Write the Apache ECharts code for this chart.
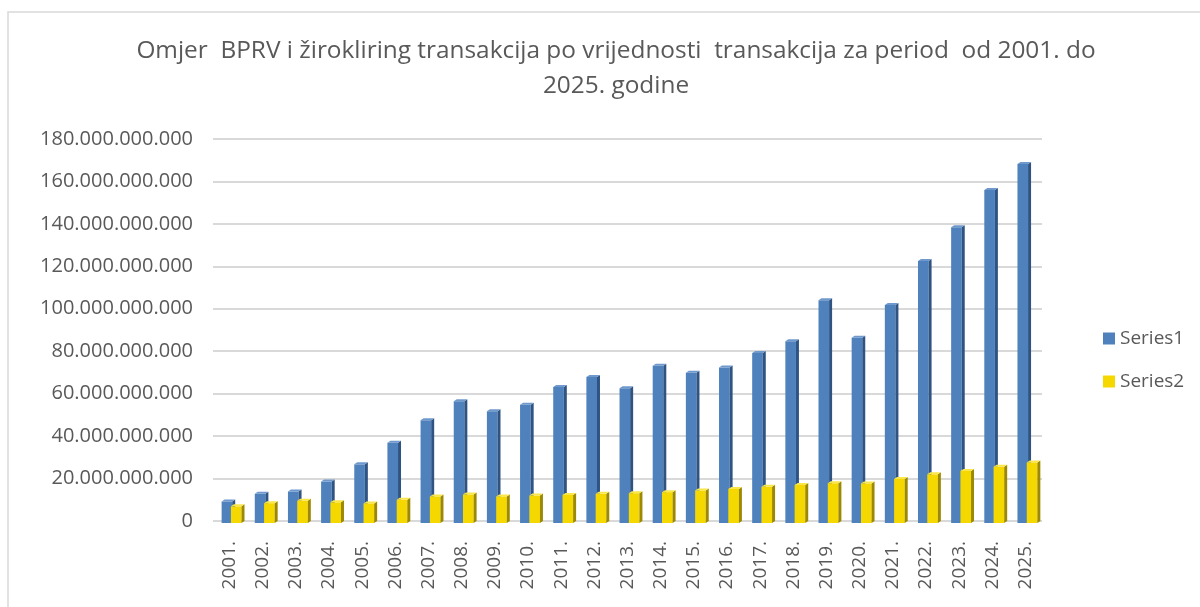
<!DOCTYPE html>
<html>
<head>
<meta charset="utf-8">
<script src="https://cdn.jsdelivr.net/npm/echarts@6/dist/echarts.min.js"></script>
<style>
  html, body { margin: 0; padding: 0; background: #fff; }
  #chart { width: 1200px; height: 607px; }
</style>
</head>
<body>
<div id="chart"></div>
<script>
// godine
const years = ['2001.', '2002.', '2003.', '2004.', '2005.', '2006.', '2007.', '2008.', '2009.', '2010.',
  '2011.', '2012.', '2013.', '2014.', '2015.', '2016.', '2017.', '2018.', '2019.', '2020.',
  '2021.', '2022.', '2023.', '2024.', '2025.'];

// BPRV (plavo)
const series1 = [9.2e9, 12.8e9, 13.9e9, 18.6e9, 26.7e9, 36.9e9, 47.5e9, 56.4e9, 51.7e9, 54.8e9,
  63.1e9, 67.8e9, 62.6e9, 73.2e9, 69.8e9, 72.3e9, 79.2e9, 84.7e9, 104.0e9, 86.4e9,
  101.8e9, 122.5e9, 138.4e9, 156.0e9, 168.2e9];

// žirokliring (žuto)
const series2 = [6.9e9, 8.4e9, 9.5e9, 8.8e9, 8.3e9, 10.0e9, 11.6e9, 12.5e9, 11.6e9, 12.0e9,
  12.3e9, 12.8e9, 13.1e9, 13.6e9, 14.4e9, 15.1e9, 16.1e9, 17.0e9, 17.8e9, 17.7e9,
  19.8e9, 22.0e9, 23.6e9, 25.6e9, 27.6e9];

const yTicks = [0, 20e9, 40e9, 60e9, 80e9, 100e9, 120e9, 140e9, 160e9, 180e9];

const chart = echarts.init(document.getElementById('chart'));

// 3D stupac: prednja strana + bočna + gornja
function column3d(faceColor, sideColor, topColor, offset) {
  return function (params, api) {
    const idx = api.value(0);
    const top = api.coord([idx, api.value(1)]);
    const base = api.coord([idx, 0]);
    const band = api.size([1, 0])[0];
    const face = band * 0.32;
    const side = band * 0.09;
    const d = 2;
    const x0 = top[0] + band * offset;
    const x1 = x0 + face;
    return {
      type: 'group',
      children: [
        { type: 'rect', shape: { x: x0, y: top[1], width: face, height: base[1] - top[1] + 2 },
          style: { fill: faceColor } },
        { type: 'polygon', shape: { points: [[x1, top[1]], [x1 + side, top[1] - d], [x1 + side, base[1]], [x1, base[1] + 2]] },
          style: { fill: sideColor } },
        { type: 'polygon', shape: { points: [[x0, top[1]], [x0 + side, top[1] - d], [x1 + side, top[1] - d], [x1, top[1]]] },
          style: { fill: topColor } }
      ]
    };
  };
}

const option = {
  backgroundColor: '#fff',
  animation: false,
  graphic: [{
    type: 'rect',
    shape: { x: 8, y: 12, width: 1300, height: 700 },
    style: { fill: 'none', stroke: '#d9d9d9', lineWidth: 1.5 },
    silent: true
  }],
  title: {
    text: 'Omjer  BPRV i žirokliring transakcija po vrijednosti  transakcija za period  od 2001. do\n2025. godine',
    left: 611,
    textAlign: 'center',
    top: 29,
    textStyle: {
      fontFamily: 'Open Sans, sans-serif',
      fontSize: 24.4,
      fontWeight: 'normal',
      color: '#595959',
      lineHeight: 35
    }
  },
  legend: {
    orient: 'vertical',
    left: 1098,
    top: 324,
    itemWidth: 12,
    itemHeight: 12,
    itemGap: 24,
    icon: 'rect',
    textStyle: { fontFamily: 'Open Sans, sans-serif', fontSize: 19, color: '#595959' },
    data: ['Series1', 'Series2']
  },
  grid: { left: 213, top: 139, width: 829, height: 382 },
  xAxis: {
    type: 'category',
    data: years,
    axisLine: { show: false },
    axisTick: { show: false },
    axisLabel: {
      rotate: 90,
      margin: 20,
      interval: 0,
      fontFamily: 'Open Sans, sans-serif',
      fontSize: 19,
      color: '#595959'
    }
  },
  yAxis: {
    type: 'value',
    min: yTicks[0],
    max: yTicks[yTicks.length - 1],
    interval: 20e9,
    axisLine: { show: false },
    axisTick: { show: false },
    splitLine: { lineStyle: { color: '#d9d9d9', width: 2 } },
    axisLabel: {
      margin: 20,
      fontFamily: 'Open Sans, sans-serif',
      fontSize: 20,
      color: '#595959',
      formatter: function (v) {
        return String(Math.round(v)).replace(/\B(?=(\d{3})+(?!\d))/g, '.');
      }
    }
  },
  series: [
    {
      name: 'Series1',
      type: 'custom',
      itemStyle: { color: '#4f81bd' },
      renderItem: column3d('#4f81bd', '#2f5382', '#6f98cc', -0.24),
      encode: { x: 0, y: 1 },
      data: years.map((y, i) => [i, series1[i]])
    },
    {
      name: 'Series2',
      type: 'custom',
      itemStyle: { color: '#f5d800' },
      renderItem: column3d('#f5d800', '#9c8900', '#f9e64a', 0.04),
      encode: { x: 0, y: 1 },
      data: years.map((y, i) => [i, series2[i]])
    }
  ]
};

chart.setOption(option);
</script>
</body>
</html>
